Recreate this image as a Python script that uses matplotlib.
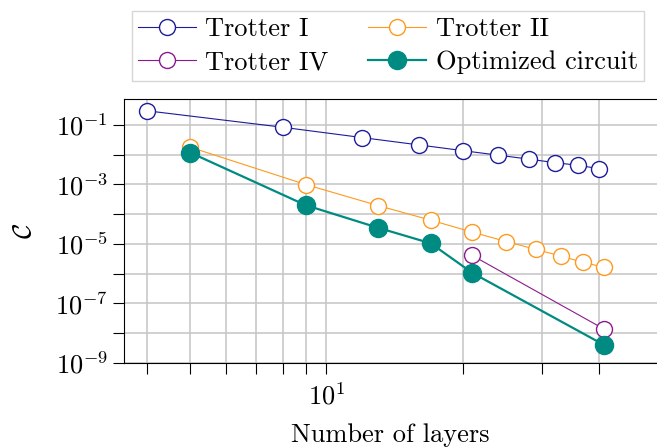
import matplotlib
matplotlib.use('Agg')
import matplotlib.pyplot as plt
from matplotlib.ticker import NullFormatter, FixedLocator

plt.rcParams['font.family'] = 'cmr10'
plt.rcParams['mathtext.fontset'] = 'cm'
plt.rcParams['axes.formatter.use_mathtext'] = True
plt.rcParams['font.size'] = 19

# data
x_t1 = [4, 8, 12, 16, 20, 24, 28, 32, 36, 40]
y_t1 = [0.30, 0.0835, 0.0375, 0.0213, 0.0137, 0.0096, 0.0071, 0.0054, 0.0044, 0.0034]

x_t2 = [5, 9, 13, 17, 21, 25, 29, 33, 37, 41]
y_t2 = [0.0178, 9.9e-4, 1.95e-4, 6.3e-5, 2.5e-5, 1.2e-5, 6.6e-6, 3.9e-6, 2.4e-6, 1.65e-6]

x_t4 = [21, 41]
y_t4 = [4.1e-6, 1.4e-8]

x_opt = [5, 9, 13, 17, 21, 41]
y_opt = [0.0117, 2.0e-4, 3.5e-5, 1.05e-5, 1.07e-6, 4.1e-9]

fig = plt.figure(figsize=(6.57, 4.47), dpi=100)
ax = fig.add_axes([0.189, 0.188, 0.811, 0.590])

l1, = ax.plot(x_t1, y_t1, '-o', color='#1c1c9c', lw=0.8, ms=11.5, mfc='white', mew=1.0,
              label='Trotter I', zorder=3)
l2, = ax.plot(x_t2, y_t2, '-o', color='#ff9a1e', lw=0.8, ms=11.5, mfc='white', mew=1.0,
              label='Trotter II', zorder=3)
l4, = ax.plot(x_t4, y_t4, '-o', color='#8c1a8c', lw=0.8, ms=11.5, mfc='white', mew=1.0,
              label='Trotter IV', zorder=3)
lo, = ax.plot(x_opt, y_opt, '-o', color='#008b82', lw=1.6, ms=13, mfc='#008b82', mew=1.0,
              label='Optimized circuit', zorder=4)

ax.set_xscale('log')
ax.set_yscale('log')
ax.set_xlim(3.57, 53.8)
ax.set_ylim(1e-9, 0.73)

ax.xaxis.set_major_locator(FixedLocator([10]))
ax.xaxis.set_minor_locator(FixedLocator([4, 5, 6, 7, 8, 9, 20, 30, 40]))
ax.xaxis.set_minor_formatter(NullFormatter())
ax.yaxis.set_major_locator(FixedLocator([1e-9, 1e-7, 1e-5, 1e-3, 1e-1]))
ax.yaxis.set_minor_locator(FixedLocator([1e-8, 1e-6, 1e-4, 1e-2]))
ax.yaxis.set_minor_formatter(NullFormatter())

ax.tick_params(which='both', direction='out', length=8, width=0.8, color='black')
ax.tick_params(axis='x', pad=6)
ax.grid(True, which='both', color='#c4c4c4', lw=1.1)
ax.set_axisbelow(True)
ax.spines['right'].set_visible(False)

ax.set_xlabel('Number of layers', labelpad=10)
ax.set_ylabel(r'$\mathcal{C}$', labelpad=14)

# row-wise order: Trotter I, Trotter II / Trotter IV, Optimized circuit
leg = ax.legend([l1, l4, l2, lo], ['Trotter I', 'Trotter IV', 'Trotter II', 'Optimized circuit'],
                ncol=2, loc='lower center', bbox_to_anchor=(0.495, 1.02),
                frameon=True, fancybox=False, edgecolor='#cccccc',
                handlelength=2.2, handletextpad=0.35, columnspacing=1.5,
                borderpad=0.25, labelspacing=0.35, fontsize=19)
leg.get_frame().set_linewidth(1.0)

fig.savefig('out.png', dpi=100)
